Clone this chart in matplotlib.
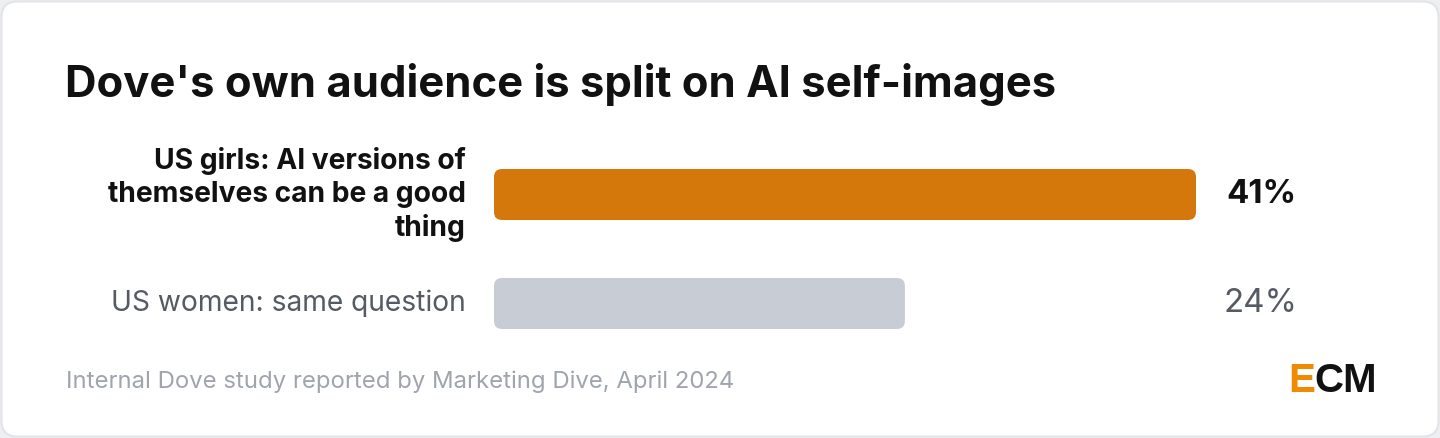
import matplotlib.pyplot as plt
from matplotlib.patches import FancyBboxPatch

plt.rcParams['font.family'] = ['Inter', 'DejaVu Sans']

# data
labels = ["US girls: AI versions of\nthemselves can be a good\nthing", "US women: same question"]
values = [41, 24]
value_labels = ["41%", "24%"]
bar_colors = ["#d4780b", "#c8ccd4"]
label_colors = ["#111111", "#555a63"]
label_weights = ["bold", "normal"]

title = "Dove's own audience is split on AI self-images"
source = "Internal Dove study reported by Marketing Dive, April 2024"

W, H = 1440, 438
fig = plt.figure(figsize=(W / 100, H / 100), dpi=100)
fig.patch.set_facecolor("#eeeff1")

# card background in pixel coordinates
bg = fig.add_axes([0, 0, 1, 1])
bg.set_xlim(0, W)
bg.set_ylim(H, 0)
bg.axis("off")
card = FancyBboxPatch((1.5, 1.5), W - 3, H - 3,
                      boxstyle="round,pad=0,rounding_size=16",
                      facecolor="white", edgecolor="#e3e4e8", linewidth=1.5)
bg.add_patch(card)

bg.text(65, 85, title, fontsize=31.4, fontweight="bold", color="#111111",
        va="center", ha="left")
bg.text(66, 382, source, fontsize=17.2, color="#a0a4ac", va="center", ha="left")
bg.text(1288, 381, "E", fontsize=29, fontweight="bold", color="#f08a00",
        family=["Liberation Sans", "DejaVu Sans"], va="center", ha="left")
bg.text(1314, 381, "CM", fontsize=29, fontweight="bold", color="#111111",
        family=["Liberation Sans", "DejaVu Sans"], va="center", ha="left")

# bar axes: x 494..1196 px, y 169..329 px
ax = fig.add_axes([494 / W, 1 - 329 / H, (1196 - 494) / W, 160 / H])
ax.set_xlim(0, max(values))
bh = 51 / 109
ax.set_ylim(1 + bh / 2, -bh / 2)
ax.axis("off")

bars = ax.barh(range(len(values)), values, height=bh, color=bar_colors)
rx = 8 / (702 / max(values))
ry = 8 / 109
for b, c in zip(bars, bar_colors):
    b.set_visible(False)
    fb = FancyBboxPatch((b.get_x(), b.get_y()), b.get_width(), b.get_height(),
                        boxstyle=f"round,pad=0,rounding_size={rx}",
                        mutation_aspect=ry / rx, facecolor=c, edgecolor="none")
    ax.add_patch(fb)

for i, (lab, vl) in enumerate(zip(labels, value_labels)):
    ax.annotate(lab, xy=(0, i), xytext=(-28, 0), textcoords="offset pixels",
                ha="right", va="center", fontsize=20.3, fontweight=label_weights[i],
                color=label_colors[i], linespacing=1.27)
    ax.annotate(vl, xy=(max(values), i), xytext=(101, 0), textcoords="offset pixels",
                ha="right", va="center", fontsize=23.8, fontweight=label_weights[i],
                color=label_colors[i])

fig.savefig("out.png", dpi=100, facecolor=fig.get_facecolor())
